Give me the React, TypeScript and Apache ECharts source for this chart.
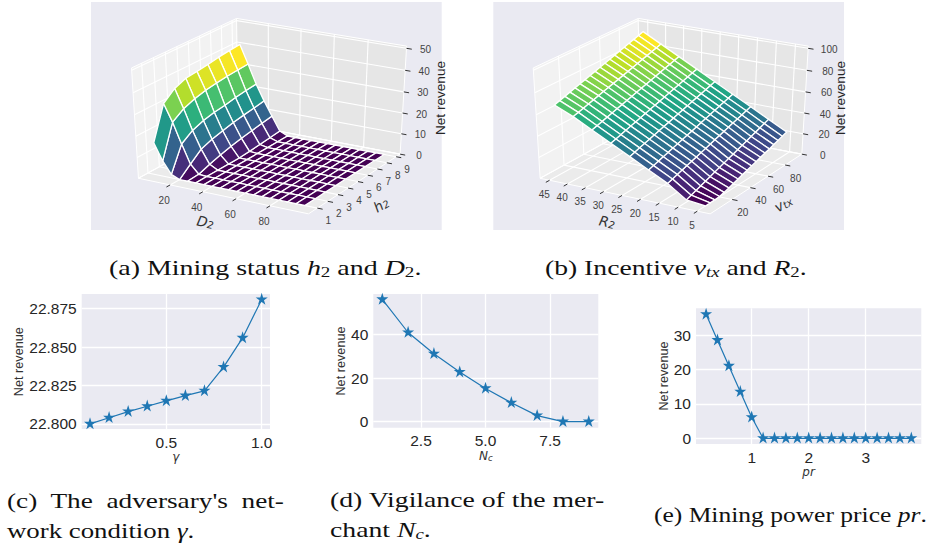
import React, { useEffect, useRef } from "react";
import * as echarts from "echarts";

// ---- data, panel (a): net revenue for D2 (rows) and h2 (columns)
const d2Values = [5, 10, 15, 20, 25, 30, 35, 40, 45, 50, 55, 60, 65, 70, 75, 80, 85, 90, 95];
const h2Values = [1, 2, 3, 4, 5, 6, 7, 8, 9];
const revenueA = [
  [15.3, 30.8, 35.1, 37.2, 37.8, 38.5, 39.4, 40, 40.4],
  [7.4, 22.9, 26.4, 28.4, 29.7, 30.5, 31.1, 31.5, 31.8],
  [1.7, 13.3, 16.9, 18.8, 20, 20.6, 21.6, 22.3, 22.8],
  [0, 4.4, 8.7, 10.6, 11.8, 13, 13.8, 14.5, 15.3],
  [0, 0.3, 2.1, 3.7, 5, 6, 6.9, 7.7, 8.5],
  [0, 0, 0, 0, 0, 0.3, 0.8, 1.3, 1.8],
  [0, 0, 0, 0, 0, 0, 0, 0, 0],
  [0, 0, 0, 0, 0, 0, 0, 0, 0],
  [0, 0, 0, 0, 0, 0, 0, 0, 0],
  [0, 0, 0, 0, 0, 0, 0, 0, 0],
  [0, 0, 0, 0, 0, 0, 0, 0, 0],
  [0, 0, 0, 0, 0, 0, 0, 0, 0],
  [0, 0, 0, 0, 0, 0, 0, 0, 0],
  [0, 0, 0, 0, 0, 0, 0, 0, 0],
  [0, 0, 0, 0, 0, 0, 0, 0, 0],
  [0, 0, 0, 0, 0, 0, 0, 0, 0],
  [0, 0, 0, 0, 0, 0, 0, 0, 0],
  [0, 0, 0, 0, 0, 0, 0, 0, 0],
  [0, 0, 0, 0, 0, 0, 0, 0, 0],
];

// ---- data, panel (b): net revenue for R2 (rows) and v_tx (columns)
const r2Values = [45, 40, 35, 30, 25, 20, 15, 10, 5];
const vtxValues = [5, 10, 15, 20, 25, 30, 35, 40, 45, 50, 55, 60, 65, 70, 75, 80, 85, 90, 95];
const revenueB = [
  [66.5, 68, 69.5, 71, 72.5, 73.9, 75.4, 76.9, 78.4, 79.9, 81.4, 82.9, 84.4, 85.9, 87.3, 88.8, 90.3, 91.8, 93.3],
  [59, 60.4, 61.8, 63.2, 64.6, 66.1, 67.5, 68.9, 70.3, 71.7, 73.1, 74.5, 75.9, 77.3, 78.8, 80.2, 81.6, 83, 84.4],
  [50, 51.4, 52.8, 54.3, 55.7, 57.1, 58.5, 59.9, 61.3, 62.8, 64.2, 65.6, 67, 68.4, 69.8, 71.3, 72.7, 74.1, 75.5],
  [41, 42.4, 43.8, 45.3, 46.7, 48.1, 49.5, 50.9, 52.4, 53.8, 55.2, 56.6, 58, 59.5, 60.9, 62.3, 63.8, 65.2, 66.6],
  [32, 33.4, 34.9, 36.3, 37.7, 39.1, 40.6, 42, 43.4, 44.9, 46.3, 47.7, 49.1, 50.6, 52, 53.4, 54.8, 56.3, 57.7],
  [23, 24.4, 25.9, 27.3, 28.7, 30.2, 31.6, 33, 34.5, 35.9, 37.3, 38.8, 40.2, 41.6, 43.1, 44.5, 45.9, 47.4, 48.8],
  [14, 15.4, 16.9, 18.3, 19.8, 21.2, 22.6, 24.1, 25.5, 27, 28.4, 29.8, 31.3, 32.7, 34.2, 35.6, 37, 38.5, 39.9],
  [2, 3.6, 5.2, 6.8, 8.4, 10, 11.7, 13.3, 14.9, 16.5, 18.1, 19.7, 21.3, 22.9, 24.6, 26.2, 27.8, 29.4, 31],
  [0, 0, 0, 0.4, 1.5, 3, 4.4, 5.9, 7.4, 8.8, 10.3, 11.7, 13.2, 14.7, 16.1, 17.6, 19, 20.5, 22],
];

// ---- data, panels (c), (d), (e)
const gammaX = [0.1, 0.2, 0.3, 0.4, 0.5, 0.6, 0.7, 0.8, 0.9, 1.0];
const gammaY = [22.8, 22.804, 22.808, 22.8115, 22.815, 22.8184, 22.8215, 22.837, 22.856, 22.881];
const ncX = [1, 2, 3, 4, 5, 6, 7, 8, 9];
const ncY = [56.2, 41, 31.2, 22.8, 15.3, 8.7, 2.8, 0, 0];
const prX = [0.2, 0.4, 0.6, 0.8, 1, 1.2, 1.4, 1.6, 1.8, 2, 2.2, 2.4, 2.6, 2.8, 3, 3.2, 3.4, 3.6, 3.8];
const prY = [36, 28.5, 21, 13.5, 6.1, 0, 0, 0, 0, 0, 0, 0, 0, 0, 0, 0, 0, 0, 0];

// ---- tick labels
const ticksD2 = [20, 40, 60, 80];
const ticksH2 = [1, 2, 3, 4, 5, 6, 7, 8, 9];
const ticksZA = [0, 10, 20, 30, 40, 50];
const ticksR2 = [45, 40, 35, 30, 25, 20, 15, 10, 5];
const ticksVtx = [20, 40, 60, 80];
const ticksZB = [0, 20, 40, 60, 80, 100];

const VIRIDIS = ["#440154", "#482475", "#414487", "#355f8d", "#2a788e", "#21918c", "#22a884", "#44bf70", "#7ad151", "#bddf26", "#fde725"];
const STAR = "path://M50 0 L61.2 34.5 L97.6 34.5 L68.2 55.9 L79.4 90.5 L50 69.1 L20.6 90.5 L31.8 55.9 L2.4 34.5 L38.8 34.5 Z";
const BLUE = "#1f77b4";
const BG = "#EAEAF2";
const SANS = "Liberation Sans";
const SERIF = "Liberation Serif";
const MATH = "DejaVu Sans";

function viridis(t: number) {
  const v = Math.max(0, Math.min(1, t)) * (VIRIDIS.length - 1);
  const i = Math.min(VIRIDIS.length - 2, Math.floor(v));
  const f = v - i;
  const h = (s: string, k: number) => parseInt(s.slice(k, k + 2), 16);
  const mix = (k: number) => Math.round(h(VIRIDIS[i], k) * (1 - f) + h(VIRIDIS[i + 1], k) * f);
  return `rgb(${mix(1)},${mix(3)},${mix(5)})`;
}

type Panel = {
  ox: number;
  xLim: number[];
  yLim: number[];
  zLim: number[];
};

const panelA: Panel = { ox: 271.3, xLim: [0.3, 102.3], yLim: [0.167, 9.43], zLim: [0, 51] };
const panelB: Panel = { ox: 673, xLim: [47.66, 1.66], yLim: [-3.5, 100], zLim: [0, 102] };

// perspective view of the unit box: elevation 30, azimuth -60, distance 10
function view(p: Panel, nx: number, ny: number, nz: number) {
  const qx = nx - 0.5, qy = ny - 0.5, qz = nz - 0.5;
  const xc = 0.866025 * qx + 0.5 * qy;
  const yc = -0.25 * qx + 0.433013 * qy + 0.866025 * qz;
  const d = 0.433013 * qx - 0.75 * qy + 0.5 * qz;
  const f = 10 / (10 - d);
  return [p.ox + 196.3 * xc * f, 112.8 - 126 * yc * f, d];
}
const nx = (p: Panel, v: number) => (v - p.xLim[0]) / (p.xLim[1] - p.xLim[0]);
const ny = (p: Panel, v: number) => (v - p.yLim[0]) / (p.yLim[1] - p.yLim[0]);
const nz = (p: Panel, v: number) => (v - p.zLim[0]) / (p.zLim[1] - p.zLim[0]);

function segment(p: Panel, a: number[], b: number[], stroke: string, lineWidth: number) {
  const A = view(p, a[0], a[1], a[2]);
  const B = view(p, b[0], b[1], b[2]);
  return {
    type: "line",
    silent: true,
    shape: { x1: A[0], y1: A[1], x2: B[0], y2: B[1] },
    style: { stroke, lineWidth },
  };
}

function pane(p: Panel, corners: number[][], fill: string) {
  return {
    type: "polygon",
    silent: true,
    shape: { points: corners.map((c) => view(p, c[0], c[1], c[2]).slice(0, 2)) },
    style: { fill, stroke: "#fff", lineWidth: 1 },
  };
}

function label(text: any, x: number, y: number, extra: any = {}, rotation = 0) {
  const { rich, ...rest } = extra;
  return {
    type: "text",
    silent: true,
    x,
    y,
    rotation,
    style: {
      text,
      align: "center",
      verticalAlign: "middle",
      fontFamily: SANS,
      fontSize: 10,
      fill: "#444",
      rich,
      ...rest,
    },
  };
}

function frame(p: Panel, tx: number[], ty: number[], tz: number[], txOff: number[], tyOff: number[], tzOff: number) {
  const out: any[] = [];
  out.push(pane(p, [[0, 0, 0], [0, 1, 0], [0, 1, 1], [0, 0, 1]], "#F2F2F2"));
  out.push(pane(p, [[0, 1, 0], [1, 1, 0], [1, 1, 1], [0, 1, 1]], "#E6E6E6"));
  out.push(pane(p, [[0, 0, 0], [1, 0, 0], [1, 1, 0], [0, 1, 0]], "#EBEBEB"));
  tx.forEach((v) => {
    const n = nx(p, v);
    out.push(segment(p, [n, 0, 0], [n, 1, 0], "#fff", 1.1));
    out.push(segment(p, [n, 1, 0], [n, 1, 1], "#fff", 1.1));
    out.push(segment(p, [n, 0, 0], [n, -0.035, 0], "#333", 1));
    const a = view(p, n, 0, 0);
    out.push(label(String(v), a[0] + txOff[0], a[1] + txOff[1]));
  });
  ty.forEach((v) => {
    const n = ny(p, v);
    out.push(segment(p, [0, n, 0], [1, n, 0], "#fff", 1.1));
    out.push(segment(p, [0, n, 0], [0, n, 1], "#fff", 1.1));
    out.push(segment(p, [1, n, 0], [1.03, n, 0], "#333", 1));
    const a = view(p, 1, n, 0);
    out.push(label(String(v), a[0] + tyOff[0], a[1] + tyOff[1]));
  });
  tz.forEach((v) => {
    const n = nz(p, v);
    out.push(segment(p, [0, 0, n], [0, 1, n], "#fff", 1.1));
    out.push(segment(p, [0, 1, n], [1, 1, n], "#fff", 1.1));
    out.push(segment(p, [1, 1, n], [1.03, 1, n], "#333", 1));
    const a = view(p, 1, 1, n);
    out.push(label(String(v), a[0] + tzOff, a[1] + 1));
  });
  return out;
}

function surface(p: Panel, xs: number[], ys: number[], zs: number[][]) {
  const cells: number[][] = [];
  const means: number[] = [];
  for (let i = 0; i < xs.length - 1; i++) {
    for (let j = 0; j < ys.length - 1; j++) {
      const m = (zs[i][j] + zs[i + 1][j] + zs[i][j + 1] + zs[i + 1][j + 1]) / 4;
      means.push(m);
      const c = view(p, nx(p, (xs[i] + xs[i + 1]) / 2), ny(p, (ys[j] + ys[j + 1]) / 2), nz(p, m));
      cells.push([i, j, c[2], m]);
    }
  }
  cells.sort((a, b) => a[2] - b[2]);
  const lo = Math.min(...means), hi = Math.max(...means);
  return {
    type: "custom",
    coordinateSystem: "none",
    silent: true,
    z: 3,
    data: cells,
    renderItem: (_: any, api: any) => {
      const i = api.value(0), j = api.value(1);
      const corner = (a: number, b: number) =>
        view(p, nx(p, xs[a]), ny(p, ys[b]), nz(p, zs[a][b])).slice(0, 2);
      return {
        type: "polygon",
        shape: { points: [corner(i, j), corner(i + 1, j), corner(i + 1, j + 1), corner(i, j + 1)] },
        style: { fill: viridis((api.value(3) - lo) / (hi - lo)), stroke: "#fff", lineWidth: 1.3 },
      };
    },
  };
}

const mathRich = (size: number, sub: number) => ({
  i: { fontFamily: MATH, fontStyle: "italic", fontSize: size, fill: "#333", verticalAlign: "bottom" },
  s: { fontFamily: MATH, fontStyle: "italic", fontSize: sub, fill: "#333", padding: [6, 0, 0, 0], verticalAlign: "bottom" },
});

const capRich = {
  i: { fontFamily: SERIF, fontStyle: "italic", fontSize: 22, fill: "#111" },
  s: { fontFamily: SERIF, fontSize: 15, fill: "#111", padding: [8, 0, 0, 0] },
  si: { fontFamily: SERIF, fontStyle: "italic", fontSize: 15, fill: "#111", padding: [8, 0, 0, 0] },
  g: { fontFamily: SERIF, fontStyle: "italic", fontSize: 22, fill: "#111" },
};

function caption(text: string, x: number, y: number, scaleX: number) {
  return {
    type: "text",
    silent: true,
    x,
    y,
    scaleX,
    style: {
      text,
      align: "left",
      verticalAlign: "middle",
      fontFamily: SERIF,
      fontSize: 22,
      fill: "#111",
      rich: capRich,
    },
  };
}

function lineGrid(i: number, rect: any, xLim: number[], yLim: number[], xt: number[], yt: number[], xf: any, yf: any, name: any, nameRich: any) {
  const axisText = { fontFamily: SANS, fontSize: 15.5, color: "#262626" };
  const split = { show: true, lineStyle: { color: "#fff", width: 1.3 } };
  return {
    grid: { ...rect, show: true, backgroundColor: BG, borderWidth: 0, containLabel: false },
    xAxis: {
      type: "value", gridIndex: i, min: xLim[0], max: xLim[1],
      axisLine: { show: false },
      axisTick: { show: false, customValues: xt },
      axisLabel: { ...axisText, margin: 5, customValues: xt, formatter: xf },
      splitLine: split,
      name, nameLocation: "middle", nameGap: 21,
      nameTextStyle: { fontFamily: MATH, fontStyle: "italic", fontSize: 12, color: "#333", rich: nameRich },
    },
    yAxis: {
      type: "value", gridIndex: i, min: yLim[0], max: yLim[1],
      axisLine: { show: false },
      axisTick: { show: false, customValues: yt },
      axisLabel: { ...axisText, margin: 5, customValues: yt, formatter: yf },
      splitLine: split,
    },
  };
}

function starLine(i: number, xs: number[], ys: number[]) {
  return {
    type: "line",
    xAxisIndex: i,
    yAxisIndex: i,
    data: xs.map((x, k) => [x, ys[k]]),
    symbol: STAR,
    symbolSize: 12,
    symbolOffset: [0, -0.7],
    showSymbol: true,
    clip: false,
    lineStyle: { color: BLUE, width: 1.2 },
    itemStyle: { color: BLUE },
    silent: true,
    z: 3,
  };
}

export default function App() {
  const ref = useRef<HTMLDivElement>(null);
  useEffect(() => {
    const chart = echarts.init(ref.current!, undefined, { renderer: "svg" });
    const c = lineGrid(0, { left: 81.7, top: 294, width: 188.3, height: 135 }, [0.0564, 1.0436], [22.7967, 22.8846],
      [0.5, 1.0], [22.8, 22.825, 22.85, 22.875], (v: number) => v.toFixed(1), (v: number) => v.toFixed(3), "γ", undefined);
    const d = lineGrid(1, { left: 373.3, top: 294, width: 225, height: 133.7 }, [0.651, 9.37], [-2.76, 58.7],
      [2.5, 5, 7.5], [0, 20, 40], (v: number) => v.toFixed(1), (v: number) => String(v), "{i|N}{s|c}",
      { i: { fontFamily: MATH, fontStyle: "italic", fontSize: 12, color: "#333" }, s: { fontFamily: MATH, fontStyle: "italic", fontSize: 8.5, color: "#333", padding: [4, 0, 0, 0] } });
    const e = lineGrid(2, { left: 696, top: 308.3, width: 225.3, height: 135.7 }, [0.023, 3.975], [-1.66, 37.76],
      [1, 2, 3], [0, 10, 20, 30], (v: number) => String(v), (v: number) => String(v), "pr", undefined);

    const graphics: any[] = [
      { type: "rect", silent: true, shape: { x: 91, y: 2, width: 350.7, height: 228 }, style: { fill: BG } },
      { type: "rect", silent: true, shape: { x: 493.3, y: 2, width: 350.7, height: 228 }, style: { fill: BG } },
      ...frame(panelA, ticksD2, ticksH2, ticksZA, [-6, 15.7], [11, 12.5], 19),
      ...frame(panelB, ticksR2, ticksVtx, ticksZB, [-5.3, 14], [10.5, 13.3], 21),
      label("Net revenue", 440, 98, { fontSize: 13.6, fill: "#262626" }, Math.PI / 2),
      label("Net revenue", 840.7, 98, { fontSize: 13.6, fill: "#262626" }, Math.PI / 2),
      label("{i|D}{s|2}", 205.7, 221, { rich: mathRich(14, 10) }, -0.2),
      label("{i|h}{s|2}", 380.7, 204, { rich: mathRich(14, 10) }, 0.55),
      label("{i|R}{s|2}", 607.3, 221, { rich: mathRich(14, 10) }, -0.2),
      label("{i|v}{s|tx}", 782.7, 203, { rich: mathRich(14, 10) }, 0.55),
      label("Net revenue", 19, 361.7, { fontSize: 12.7, fill: "#333" }, Math.PI / 2),
      label("Net revenue", 341, 361, { fontSize: 12.7, fill: "#333" }, Math.PI / 2),
      label("Net revenue", 663.7, 376, { fontSize: 12.7, fill: "#333" }, Math.PI / 2),
      caption("(a) Mining status {i|h}{s|2} and {i|D}{s|2}.", 109, 268, 1.27),
      caption("(b) Incentive {i|v}{si|tx} and {i|R}{s|2}.", 545, 268, 1.256),
      caption("(c)  The  adversary's  net-", 7, 500, 1.24),
      caption("work condition {g|γ}.", 7, 530, 1.22),
      caption("(d) Vigilance of the mer-", 330, 500, 1.26),
      caption("chant {i|N}{si|c}.", 330, 530, 1.26),
      caption("(e) Mining power price {i|pr}.", 654, 515, 1.16),
    ];

    chart.setOption({
      animation: false,
      backgroundColor: "#fff",
      grid: [c.grid, d.grid, e.grid],
      xAxis: [c.xAxis, d.xAxis, e.xAxis],
      yAxis: [c.yAxis, d.yAxis, e.yAxis],
      graphic: graphics,
      series: [
        surface(panelA, d2Values, h2Values, revenueA),
        surface(panelB, r2Values, vtxValues, revenueB),
        starLine(0, gammaX, gammaY),
        starLine(1, ncX, ncY),
        starLine(2, prX, prY),
      ],
    });
    return () => chart.dispose();
  }, []);
  return <div ref={ref} style={{ position: "fixed", left: 0, top: 0, width: 932, height: 543 }} />;
}
